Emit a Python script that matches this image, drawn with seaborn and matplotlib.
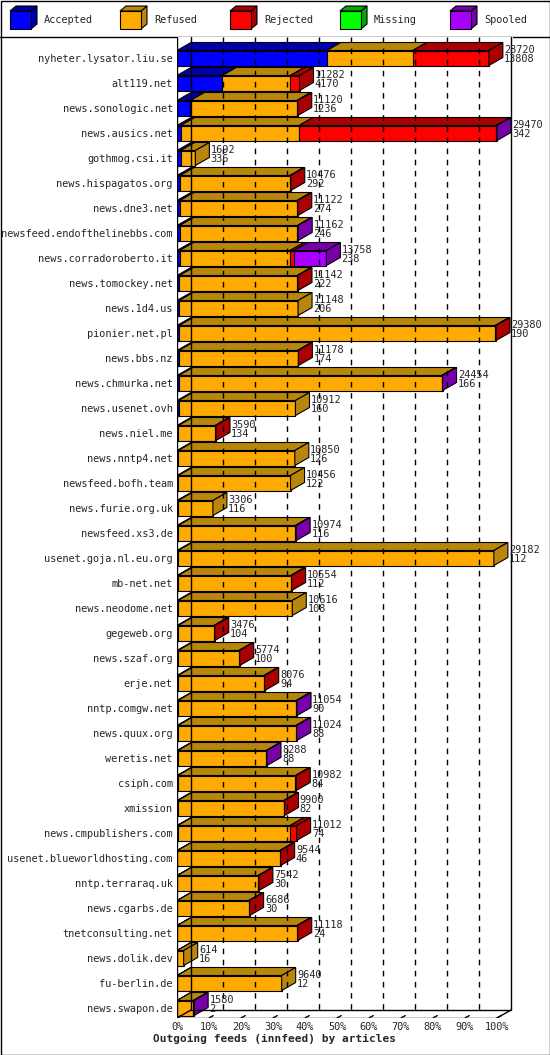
import matplotlib
matplotlib.use("Agg")
import matplotlib.pyplot as plt
from matplotlib.patches import Polygon, Rectangle
import seaborn as sns

# feed names and article counts
names = ["nyheter.lysator.liu.se", "alt119.net", "news.sonologic.net", "news.ausics.net",
         "gothmog.csi.it", "news.hispagatos.org", "news.dne3.net", "newsfeed.endofthelinebbs.com",
         "news.corradoroberto.it", "news.tomockey.net", "news.1d4.us", "pionier.net.pl",
         "news.bbs.nz", "news.chmurka.net", "news.usenet.ovh", "news.niel.me", "news.nntp4.net",
         "newsfeed.bofh.team", "news.furie.org.uk", "newsfeed.xs3.de", "usenet.goja.nl.eu.org",
         "mb-net.net", "news.neodome.net", "gegeweb.org", "news.szaf.org", "erje.net",
         "nntp.comgw.net", "news.quux.org", "weretis.net", "csiph.com", "xmission",
         "news.cmpublishers.com", "usenet.blueworldhosting.com", "nntp.terraraq.uk",
         "news.cgarbs.de", "tnetconsulting.net", "news.dolik.dev", "fu-berlin.de", "news.swapon.de"]
total = [28720, 11282, 11120, 29470, 1692, 10476, 11122, 11162, 13758, 11142, 11148, 29380,
         11178, 24454, 10912, 3590, 10850, 10456, 3306, 10974, 29182, 10554, 10616, 3476,
         5774, 8076, 11054, 11024, 8288, 10982, 9900, 11012, 9544, 7542, 6686, 11118, 614,
         9640, 1580]
accepted = [13808, 4170, 1236, 342, 336, 292, 274, 246, 238, 222, 206, 190, 174, 166, 160,
            134, 126, 122, 116, 116, 112, 112, 108, 104, 100, 94, 90, 88, 88, 84, 82, 74, 46,
            30, 30, 24, 16, 12, 2]
refused = [7900, 6262, 9800, 10900, 1356, 10100, 10770, 10836, 10170, 10840, 10942, 29110,
           10924, 24208, 10752, 3376, 10724, 10334, 3190, 10778, 29070, 10362, 10508, 3292,
           5594, 7902, 10884, 10856, 8120, 10818, 9738, 10338, 9418, 7432, 6576, 11014, 598,
           9628, 1498]
rejected = [7012, 850, 84, 18128, 0, 84, 78, 0, 350, 80, 0, 80, 80, 0, 0, 80, 0, 0, 0, 0, 0,
            80, 0, 80, 80, 80, 0, 0, 0, 80, 80, 600, 80, 80, 80, 80, 0, 0, 0]
missing = [0] * len(names)
spooled = [0, 0, 0, 100, 0, 0, 0, 80, 3000, 0, 0, 0, 0, 80, 0, 0, 0, 0, 0, 80, 0, 0, 0, 0,
           0, 0, 80, 80, 80, 0, 0, 0, 0, 0, 0, 0, 0, 0, 80]

legend_labels = ["Accepted", "Refused", "Rejected", "Missing", "Spooled"]
front_colors = ["#0000ff", "#ffaa00", "#ff0000", "#00ff00", "#aa00ff"]
dark_colors = ["#0000aa", "#b8860b", "#aa0000", "#00aa00", "#7700aa"]
percent_ticks = list(range(0, 101, 10))

sns.set_style("white")
plt.rcParams["font.family"] = ["DejaVu Sans Mono"]
FS = 7.4

W, H = 550, 1055
fig = plt.figure(figsize=(W / 100, H / 100), dpi=100)

# figure border + legend separator
border = fig.add_axes([0, 0, 1, 1])
border.set_xlim(0, W)
border.set_ylim(H, 0)
border.axis("off")
border.add_patch(Rectangle((0.5, 0.5), W - 1, H - 1, fill=False, lw=1, ec="black"))
border.plot([0, W], [37, 37], color="black", lw=1)

# legend with little 3D boxes
for k, lab in enumerate(legend_labels):
    x0 = 10 + 110 * k
    y0, y1 = 11, 29
    border.add_patch(Polygon([(x0 + 21, y0), (x0 + 27, y0 - 5), (x0 + 27, y1 - 5), (x0 + 21, y1)],
                             fc=dark_colors[k], ec="black", lw=0.8))
    border.add_patch(Polygon([(x0, y0), (x0 + 21, y0), (x0 + 27, y0 - 5), (x0 + 6, y0 - 5)],
                             fc=dark_colors[k], ec="black", lw=0.8))
    border.add_patch(Rectangle((x0, y0), 21, y1 - y0, fc=front_colors[k], ec="black", lw=0.8))
    border.text(x0 + 34, 20, lab, fontsize=FS, va="center", ha="left")

# main plot: x in percent of the biggest feed, y in rows
ax = fig.add_axes([177 / W, 1 - 1018 / H, (513 - 177) / W, (1018 - 37) / H])
ax.set_facecolor("white")
ymax = 38.4
ax.set_xlim(0, 105)
ax.set_ylim(ymax, -0.84)
for s in ax.spines.values():
    s.set_visible(False)

dx, dy, h = 14 / 3.2, 8 / 25, 0.3
scale = 100.0 / max(total)

# back wall, grid and floor
ax.plot([0, 0], [-0.84, ymax], color="black", lw=1)
ax.plot([dx, dx], [-0.84, ymax - dy], color="black", lw=1)
ax.plot([100 + dx, 100 + dx], [-0.84, ymax - dy], color="black", lw=1)
for p in percent_ticks[1:-1]:
    ax.plot([p + dx, p + dx], [-0.84, ymax - dy], color="black", lw=1, ls=(0, (4, 4)))
ax.plot([0, 100], [ymax, ymax], color="black", lw=1)
ax.plot([dx, 100 + dx], [ymax - dy, ymax - dy], color="black", lw=1)
ax.plot([0, dx], [ymax, ymax - dy], color="black", lw=1)
ax.plot([100, 100 + dx], [ymax, ymax - dy], color="black", lw=1)
for p in percent_ticks:
    ax.plot([p, p + dx * 0.3], [ymax, ymax - dy * 0.3], color="black", lw=1)

series = [accepted, refused, rejected, missing, spooled]
for i in range(len(names)):
    left = 0.0
    last = None
    for k, ser in enumerate(series):
        w = ser[i] * scale
        if w <= 0:
            continue
        ax.add_patch(Polygon([(left, i - h), (left + w, i - h), (left + w + dx, i - h - dy),
                              (left + dx, i - h - dy)], fc=dark_colors[k], ec="black", lw=0.8))
        ax.barh(i, w, left=left, height=2 * h, color=front_colors[k], edgecolor="black", lw=0.8)
        left += w
        last = k
    ax.add_patch(Polygon([(left, i - h), (left, i + h), (left + dx, i + h - dy),
                          (left + dx, i - h - dy)], fc=dark_colors[last], ec="black", lw=0.8))
    ax.text(left + dx + 0.4, i - 0.14, f"{total[i]}\n{accepted[i]}", fontsize=FS,
            va="center", ha="left", linespacing=0.9)

ax.set_yticks(range(len(names)))
ax.set_yticklabels(names, fontsize=FS)
ax.set_xticks(percent_ticks)
ax.set_xticklabels([f"{p}%" for p in percent_ticks], fontsize=FS)
ax.tick_params(length=0, pad=3)
ax.set_xlabel("Outgoing feeds (innfeed) by articles", fontsize=8, fontweight="bold",
              labelpad=1, x=0.29)

fig.savefig("out.png", dpi=100)
